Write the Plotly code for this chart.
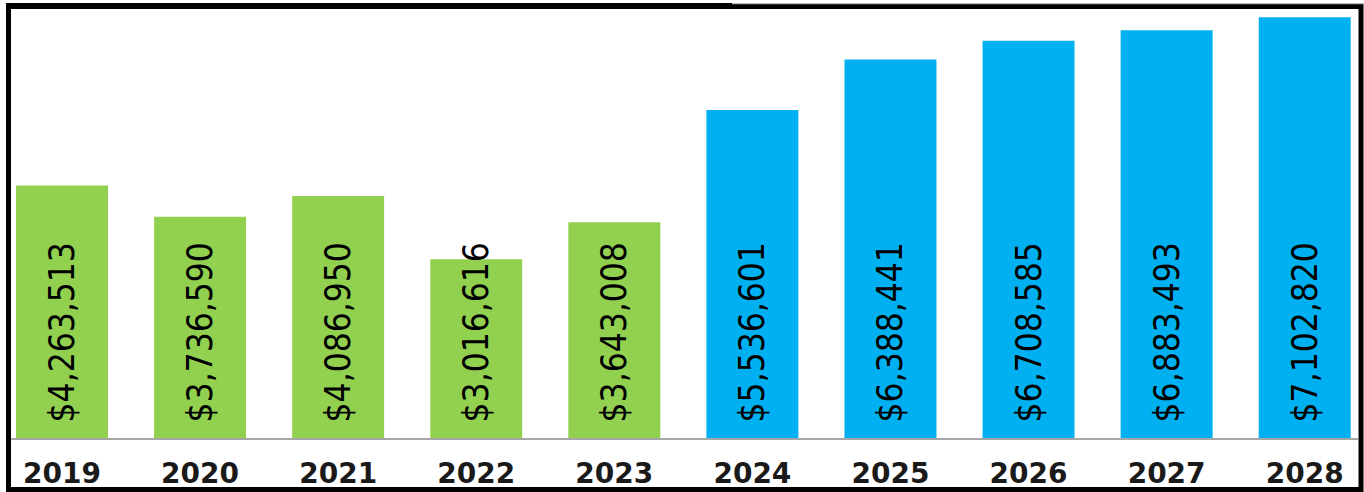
import plotly.graph_objects as go

years = ["2019", "2020", "2021", "2022", "2023", "2024", "2025", "2026", "2027", "2028"]
values = [4263513, 3736590, 4086950, 3016616, 3643008, 5536601, 6388441, 6708585, 6883493, 7102820]
bar_colors = ["#92D050"] * 5 + ["#00B0F0"] * 5

W, H = 1364, 492
ML, MR, MT, MB = 11, 6, 10, 54
PW, PH = W - ML - MR, H - MT - MB

def px(x):
    return (x - ML) / PW

def py(y):
    return 1 - (y - MT) / PH

labels = ["\u2009\u2009" + "${:,}".format(v) for v in values]

fig = go.Figure(go.Bar(
    x=years, y=values,
    marker=dict(color=bar_colors, line=dict(width=0)),
    text=labels,
    textposition="inside",
    insidetextanchor="start",
    textangle=-90,
    constraintext="none",
    textfont=dict(family="DejaVu Sans Condensed, Liberation Sans", size=35, color="#000000"),
    cliponaxis=False,
    hoverinfo="skip",
))

shapes = [
    dict(type="rect", xref="paper", yref="paper", x0=px(8.5), x1=px(1361), y0=py(6.5), y1=py(489.5),
         line=dict(color="#000000", width=5), fillcolor="rgba(0,0,0,0)", layer="above"),
    dict(type="line", xref="paper", yref="paper", x0=px(6), x1=px(732), y0=py(4.5), y1=py(4.5),
         line=dict(color="#000000", width=3), layer="above"),
    dict(type="line", xref="paper", yref="paper", x0=px(732), x1=px(1364), y0=py(3.8), y1=py(3.8),
         line=dict(color="#9A9A9A", width=1), layer="above"),
]

fig.update_layout(
    width=W, height=H,
    margin=dict(l=ML, r=MR, t=MT, b=MB, pad=0, autoexpand=False),
    paper_bgcolor="white", plot_bgcolor="white",
    showlegend=False,
    bargap=0.334,
    shapes=shapes,
    xaxis=dict(
        type="category",
        range=[-0.3694, 9.386],
        automargin=False,
        showline=True, linecolor="#A6A6A6", linewidth=1.5,
        showgrid=False, zeroline=False,
        ticks="", ticklabelstandoff=10,
        tickfont=dict(family="DejaVu Sans", size=28, color="#1A1A1A", weight="bold"),
        fixedrange=True,
    ),
    yaxis=dict(
        range=[0, 7226000],
        automargin=False,
        visible=False, showgrid=False, zeroline=False, fixedrange=True,
    ),
)

fig.write_html("out.html", config={"displayModeBar": False},
               post_script="document.body.style.margin='0';document.body.style.overflow='hidden';")
